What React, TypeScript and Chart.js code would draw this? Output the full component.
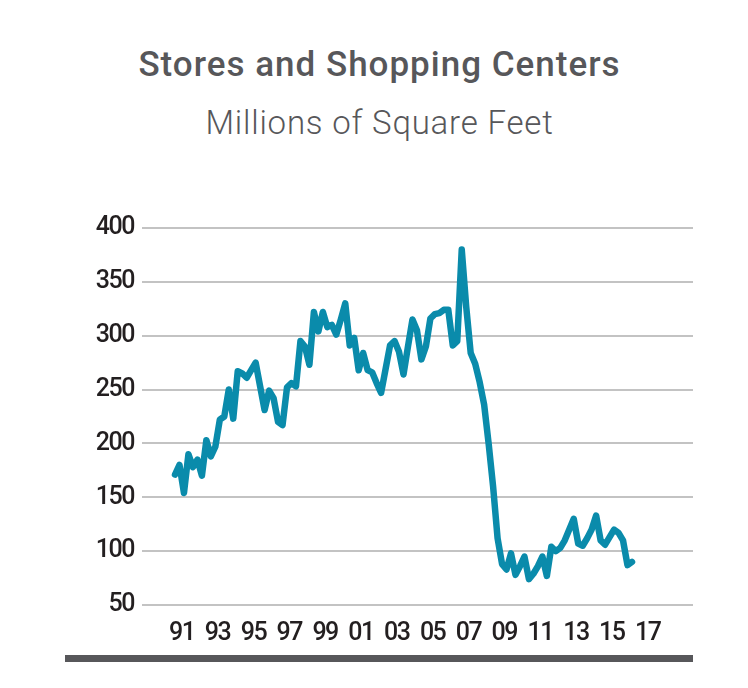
import React, { useEffect, useRef } from 'react';
import { Chart, registerables } from 'chart.js';

Chart.register(...registerables);

// Quarterly values, first quarter = 1991 Q1
const startYear = 1991;
const squareFeet = [
  171, 180, 154, 190, 178, 185, 170, 203, 188, 197,
  222, 225, 250, 223, 267, 265, 261, 268, 275, 253,
  231, 249, 242, 220, 217, 252, 256, 253, 295, 290,
  273, 322, 304, 322, 308, 310, 301, 315, 330, 291,
  298, 268, 284, 268, 266, 256, 247, 269, 291, 295,
  285, 264, 290, 315, 305, 278, 290, 316, 320, 321,
  324, 324, 291, 295, 380, 327, 284, 274, 257, 236,
  200, 160, 112, 88, 83, 98, 78, 86, 95, 74,
  79, 86, 95, 77, 104, 100, 103, 110, 120, 130,
  107, 105, 112, 120, 133, 110, 106, 113, 120, 117,
  110, 87, 90,
];
const tickYears = [1991, 1993, 1995, 1997, 1999, 2001, 2003, 2005, 2007, 2009, 2011, 2013, 2015, 2017];
const tickLabels = ['91', '93', '95', '97', '99', '01', '03', '05', '07', '09', '11', '13', '15', '17'];
const yTicks = [50, 100, 150, 200, 250, 300, 350, 400];

const TITLE = 'Stores and Shopping Centers';
const SUBTITLE = 'Millions of Square Feet';

const tightText = {
  id: 'tightText',
  beforeDraw(chart: any) {
    try {
      chart.ctx.letterSpacing = '-1.5px';
    } catch (e) {
      /* ignore */
    }
  },
};

export default function App() {
  const ref = useRef<HTMLCanvasElement>(null);

  useEffect(() => {
    if (!ref.current) return;
    const points = squareFeet.map((v, i) => ({ x: startYear + (i + 0.5) / 4, y: v }));
    const tickFont = { family: 'Roboto, sans-serif', size: 25, weight: '500' };
    const chart = new Chart(ref.current, {
      type: 'line',
      plugins: [tightText],
      data: {
        datasets: [
          {
            data: points,
            borderColor: '#0a8bab',
            borderWidth: 6.5,
            pointRadius: 0,
            tension: 0,
            fill: false,
            borderJoinStyle: 'round',
            borderCapStyle: 'round',
          },
        ],
      },
      options: {
        responsive: false,
        animation: false,
        devicePixelRatio: 1,
        layout: { padding: { top: 228, right: 55, left: 60, bottom: 0 } },
        plugins: {
          legend: { display: false },
          tooltip: { enabled: false },
          title: { display: false },
        },
        scales: {
          x: {
            type: 'linear',
            min: 1989.283,
            max: 2020.03,
            grid: { display: false },
            border: { display: false },
            afterBuildTicks: (s: any) => {
              s.ticks = tickYears.map((y) => ({ value: y + 0.5 }));
            },
            afterFit: (s: any) => {
              s.height = 83;
            },
            ticks: {
              autoSkip: false,
              maxRotation: 0,
              minRotation: 0,
              padding: 6,
              color: '#231f20',
              font: tickFont,
              callback: (_v: any, i: number) => tickLabels[i],
            },
          },
          y: {
            type: 'linear',
            min: 50,
            max: 400,
            border: { display: false },
            grid: { color: '#c3c3c3', lineWidth: 2, drawTicks: false },
            afterBuildTicks: (s: any) => {
              s.ticks = yTicks.map((v) => ({ value: v }));
            },
            afterFit: (s: any) => {
              s.width = 82;
            },
            ticks: {
              padding: 8,
              color: '#231f20',
              font: tickFont,
              callback: (v: any) => String(v),
            },
          },
        },
      },
    } as any);
    return () => chart.destroy();
  }, []);

  return (
    <div style={{ position: 'absolute', left: 0, top: 0, width: 748, height: 688, background: '#fff' }}>
      <div
        style={{
          position: 'absolute', left: 0, top: 47, width: 759, textAlign: 'center',
          fontFamily: 'Roboto, sans-serif', fontWeight: 500, fontSize: 35, lineHeight: '35px',
          letterSpacing: '1px', color: '#57575a', whiteSpace: 'nowrap',
        }}
      >
        {TITLE}
      </div>
      <div
        style={{
          position: 'absolute', left: 0, top: 106, width: 759, textAlign: 'center',
          fontFamily: 'Roboto, sans-serif', fontWeight: 300, fontSize: 33, lineHeight: '33px',
          letterSpacing: '0.8px', color: '#57575a', whiteSpace: 'nowrap',
        }}
      >
        {SUBTITLE}
      </div>
      <canvas ref={ref} width={748} height={688} style={{ position: 'absolute', left: 0, top: 0, display: 'block' }} />
      <div style={{ position: 'absolute', left: 65, top: 655, width: 628, height: 7, background: '#57575a' }} />
    </div>
  );
}
